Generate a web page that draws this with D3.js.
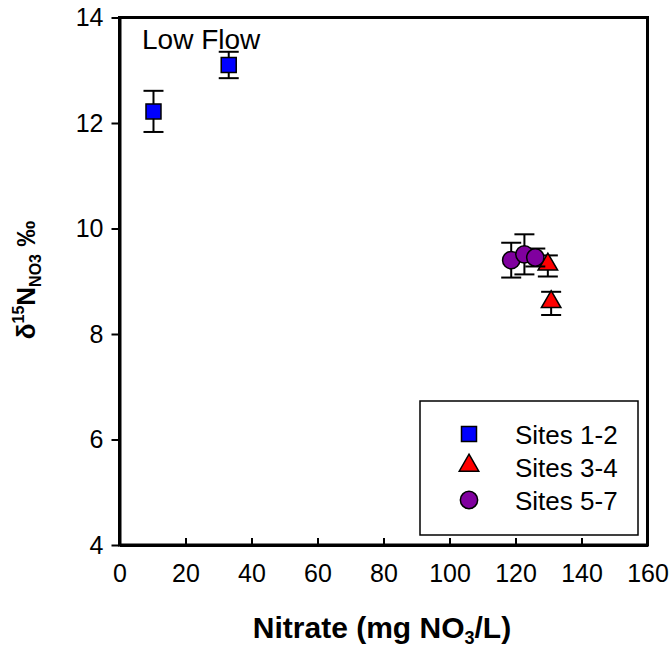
<!DOCTYPE html>
<html>
<head>
<meta charset="utf-8">
<script src="https://cdn.jsdelivr.net/npm/d3@7"></script>
<style>
  body { margin: 0; background: #fff; }
  text { font-family: "Liberation Sans", Arial, sans-serif; }
</style>
</head>
<body>
<script>
// datos
const sitios12X = [10.3, 33.1];
const sitios12Y = [12.22, 13.10];
const sitios12Err = [0.39, 0.25];

const sitios34X = [129.8, 130.8];
const sitios34Y = [9.29, 8.58];
const sitios34Err = [0.2, 0.22];

const sitios57X = [118.7, 122.7, 126.0];
const sitios57Y = [9.40, 9.51, 9.45];
const sitios57Err = [0.33, 0.38, 0.17];

const xTicks = [0, 20, 40, 60, 80, 100, 120, 140, 160];
const yTicks = [4, 6, 8, 10, 12, 14];
const nombres = ["Sites 1-2", "Sites 3-4", "Sites 5-7"];

const svg = d3.select("body").append("svg")
  .attr("width", 672).attr("height", 654);

const x = d3.scaleLinear().domain([0, 160]).range([119.5, 647.5]);
const y = d3.scaleLinear().domain([4, 14]).range([545, 17.5]);

// marco del area de grafico
svg.append("rect")
  .attr("x", x(0)).attr("y", y(14))
  .attr("width", x(160) - x(0)).attr("height", y(4) - y(14))
  .attr("fill", "none").attr("stroke", "#000").attr("stroke-width", 3);

// eje x, ticks hacia adentro
const ejeX = svg.append("g")
  .attr("transform", `translate(0,${y(4)})`)
  .call(d3.axisBottom(x).tickValues(xTicks).tickSizeInner(-7).tickSizeOuter(0).tickPadding(19));
ejeX.select(".domain").attr("stroke-width", 3);
ejeX.selectAll(".tick line").attr("stroke-width", 2);
ejeX.selectAll(".tick text").attr("font-size", 25).attr("fill", "#000")
  .attr("font-family", "Liberation Sans, Arial, sans-serif");

// eje y, ticks hacia afuera
const ejeY = svg.append("g")
  .attr("transform", `translate(${x(0)},0)`)
  .call(d3.axisLeft(y).tickValues(yTicks).tickSize(8).tickSizeOuter(0).tickPadding(8));
ejeY.select(".domain").attr("stroke-width", 3);
ejeY.selectAll(".tick line").attr("stroke-width", 2);
ejeY.selectAll(".tick text").attr("font-size", 25).attr("fill", "#000")
  .attr("font-family", "Liberation Sans, Arial, sans-serif");

// simbolos
const cuadrado = d3.symbol().type(d3.symbolSquare).size(225);
const triangulo = d3.symbol().type(d3.symbolTriangle).size(165);
const circulo = d3.symbol().type(d3.symbolCircle).size(235);

const series = [
  { xs: sitios12X, ys: sitios12Y, err: sitios12Err, color: "#0000ff", sym: cuadrado, dy: 0 },
  { xs: sitios34X, ys: sitios34Y, err: sitios34Err, color: "#ff0000", sym: triangulo, dy: -1.5 },
  { xs: sitios57X, ys: sitios57Y, err: sitios57Err, color: "#80009f", sym: circulo, dy: 0 }
];

series.forEach(s => {
  const pts = s.xs.map((v, i) => ({ x: v, y: s.ys[i], e: s.err[i] }));
  const g = svg.append("g");
  const eb = g.selectAll(".eb").data(pts).join("g").attr("stroke", "#000").attr("stroke-width", 2);
  eb.append("line")
    .attr("x1", d => x(d.x)).attr("x2", d => x(d.x))
    .attr("y1", d => y(d.y + d.e)).attr("y2", d => y(d.y - d.e));
  eb.append("line")
    .attr("x1", d => x(d.x) - 10).attr("x2", d => x(d.x) + 10)
    .attr("y1", d => y(d.y + d.e)).attr("y2", d => y(d.y + d.e));
  eb.append("line")
    .attr("x1", d => x(d.x) - 10).attr("x2", d => x(d.x) + 10)
    .attr("y1", d => y(d.y - d.e)).attr("y2", d => y(d.y - d.e));
  g.selectAll("path.m").data(pts).join("path")
    .attr("class", "m")
    .attr("d", s.sym)
    .attr("transform", d => `translate(${x(d.x)},${y(d.y) + s.dy})`)
    .attr("fill", s.color).attr("stroke", "#000").attr("stroke-width", 1.5);
});

// leyenda
const ley = svg.append("g");
ley.append("rect")
  .attr("x", 420).attr("y", 401).attr("width", 218).attr("height", 134)
  .attr("fill", "#fff").attr("stroke", "#000").attr("stroke-width", 1.5);
series.forEach((s, i) => {
  const cy = 434 + i * 33;
  ley.append("path").attr("d", s.sym)
    .attr("transform", `translate(469,${cy + s.dy})`)
    .attr("fill", s.color).attr("stroke", "#000").attr("stroke-width", 1.5);
  ley.append("text").attr("x", 515).attr("y", cy + 9.5)
    .attr("font-size", 26).text(nombres[i]);
});

// texto Low Flow
svg.append("text").attr("x", 142).attr("y", 49).attr("font-size", 28).text("Low Flow");

// titulo eje x
const tx = svg.append("text")
  .attr("x", 382).attr("y", 638)
  .attr("text-anchor", "middle").attr("font-size", 30).attr("font-weight", "bold");
tx.append("tspan").text("Nitrate (mg NO");
tx.append("tspan").attr("font-size", 18).attr("dy", 6).text("3");
tx.append("tspan").attr("dy", -6).text("/L)");

// titulo eje y
const ty = svg.append("text")
  .attr("transform", "translate(35,280) rotate(-90)")
  .attr("text-anchor", "middle").attr("font-size", 26).attr("font-weight", "bold");
ty.append("tspan").text("δ");
ty.append("tspan").attr("font-size", 16).attr("dy", -11).text("15");
ty.append("tspan").attr("dy", 11).text("N");
ty.append("tspan").attr("font-size", 16).attr("dy", 6).text("NO3");
ty.append("tspan").attr("dy", -6).text(" ‰");
</script>
</body>
</html>
